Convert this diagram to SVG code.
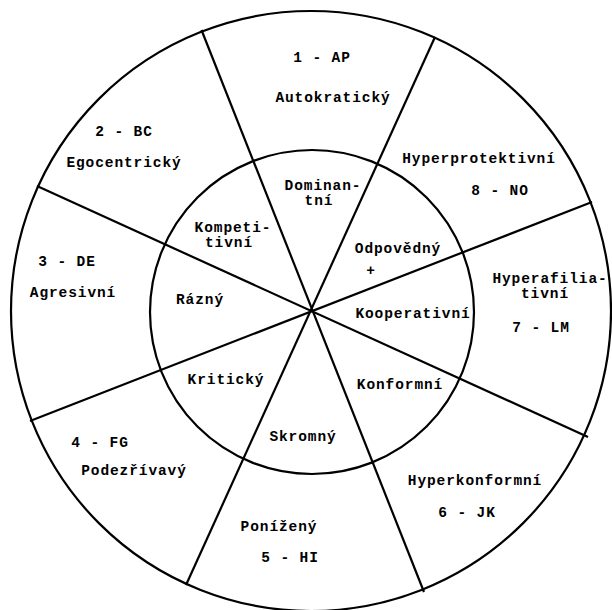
<svg xmlns="http://www.w3.org/2000/svg" width="612" height="610" viewBox="0 0 612 610">
<style>
.ring{fill:none;stroke:#000;stroke-width:2.2}
.spoke{stroke:#000;stroke-width:2.2;stroke-linecap:butt}
text{font-family:"Liberation Mono","DejaVu Sans Mono",monospace;font-weight:bold;font-size:14.5px;letter-spacing:0.9px;fill:#000;text-anchor:middle}
</style>
<rect width="612" height="610" fill="#fff"/>
<g id="rings">
<circle class="ring" cx="311" cy="311" r="300"/>
<circle class="ring" cx="312" cy="312" r="162"/>
</g>
<g id="connectors">
<line class="spoke" x1="201.5" y1="30" x2="424" y2="592"/>
<line class="spoke" x1="435" y1="37" x2="186" y2="585"/>
<line class="spoke" x1="592" y1="202" x2="30" y2="421"/>
<line class="spoke" x1="588" y1="437" x2="37" y2="186"/>
</g>
<g id="outer-1"><text x="322" y="62">1 - AP</text><text x="333" y="102">Autokratický</text></g>
<g id="outer-2"><text x="124" y="136">2 - BC</text><text x="124" y="167">Egocentrický</text></g>
<g id="outer-3"><text x="67" y="266">3 - DE</text><text x="73" y="297">Agresivní</text></g>
<g id="outer-4"><text x="100" y="447">4 - FG</text><text x="134" y="475">Podezřívavý</text></g>
<g id="outer-5"><text x="279" y="531">Ponížený</text><text x="290" y="562">5 - HI</text></g>
<g id="outer-6"><text x="475" y="485">Hyperkonformní</text><text x="467" y="517">6 - JK</text></g>
<g id="outer-7"><text x="550" y="283">Hyperafilia-</text><text x="545" y="298">tivní</text><text x="541" y="332">7 - LM</text></g>
<g id="outer-8"><text x="479" y="163">Hyperprotektivní</text><text x="500" y="195">8 - NO</text></g>
<g id="inner-dominantni"><text x="323" y="190">Dominan-</text><text x="319" y="205">tní</text></g>
<g id="inner-kompetitivni"><text x="233" y="232">Kompeti-</text><text x="229" y="247">tivní</text></g>
<g id="inner-razny"><text x="200" y="304">Rázný</text></g>
<g id="inner-kriticky"><text x="226" y="384">Kritický</text></g>
<g id="inner-skromny"><text x="303" y="441">Skromný</text></g>
<g id="inner-konformni"><text x="400" y="389">Konformní</text></g>
<g id="inner-kooperativni"><text x="413" y="318">Kooperativní</text></g>
<g id="inner-odpovedny"><text x="398" y="253">Odpovědný</text><text x="371" y="275">+</text></g>
</svg>
